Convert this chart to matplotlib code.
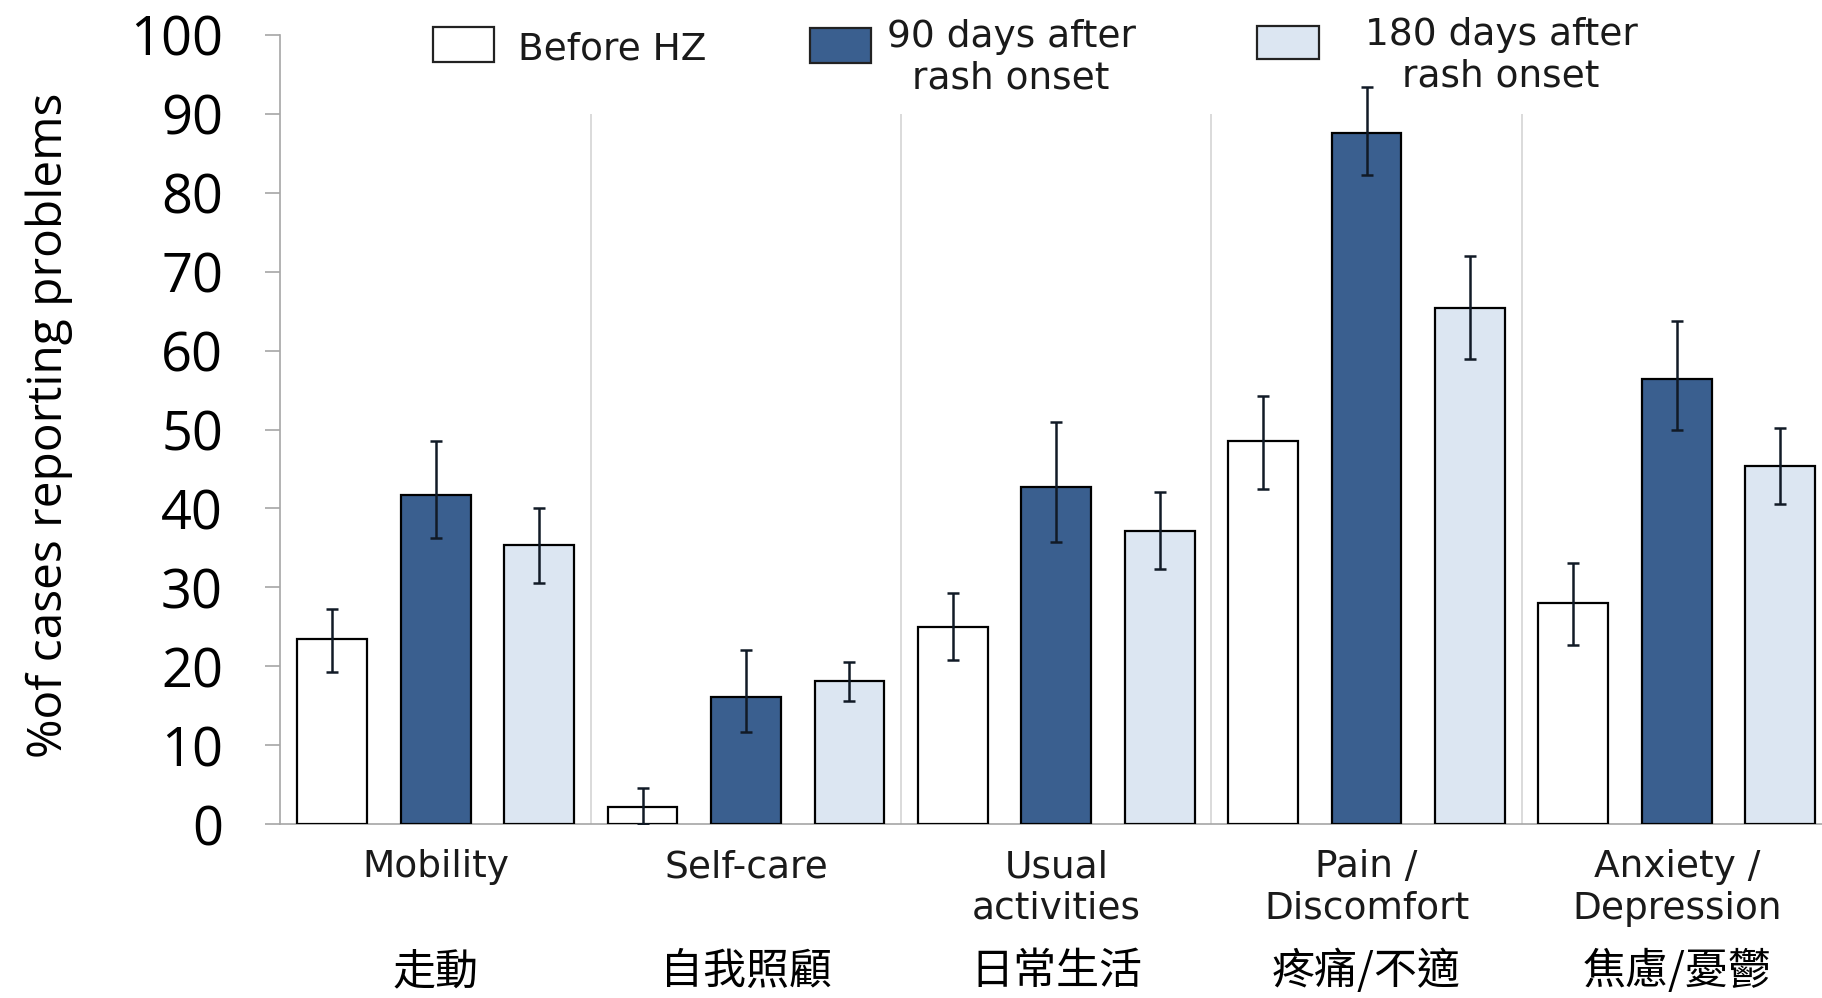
import matplotlib
matplotlib.use("Agg")
import matplotlib.pyplot as plt
import matplotlib.transforms as mtransforms
from matplotlib.patches import Rectangle
import numpy as np

# data
categories_en = ["Mobility", "Self-care", "Usual\nactivities", "Pain /\nDiscomfort", "Anxiety /\nDepression"]
categories_zh = ["走動", "自我照顧", "日常生活", "疼痛/不適", "焦慮/憂鬱"]
series_names = ["Before HZ", "90 days after\nrash onset", "180 days after\nrash onset"]

before_hz = [23.4, 2.2, 25.0, 48.5, 28.0]
before_lo = [19.3, 0.0, 20.8, 42.4, 22.7]
before_hi = [27.2, 4.6, 29.3, 54.2, 33.1]

d90 = [41.7, 16.1, 42.7, 87.6, 56.4]
d90_lo = [36.2, 11.6, 35.8, 82.2, 49.9]
d90_hi = [48.5, 22.1, 51.0, 93.4, 63.8]

d180 = [35.3, 18.1, 37.1, 65.4, 45.4]
d180_lo = [30.6, 15.6, 32.3, 58.9, 40.6]
d180_hi = [40.1, 20.5, 42.1, 72.0, 50.2]

yticks = [0, 10, 20, 30, 40, 50, 60, 70, 80, 90, 100]

colors = ["#ffffff", "#3a5f8f", "#dce6f2"]
err_color = "#111a26"

W, H = 1822, 998
fig = plt.figure(figsize=(W / 100, H / 100), dpi=100)
ax = fig.add_axes([280 / W, 1 - 824 / H, 1 - 280 / W, (824 - 35) / H])

x = np.arange(len(categories_en))
step = 1 / 3
width = 0.225
series = [(before_hz, before_lo, before_hi), (d90, d90_lo, d90_hi), (d180, d180_lo, d180_hi)]

for i, (vals, lo, hi) in enumerate(series):
    pos = x + (i - 1) * step
    vals = np.array(vals)
    yerr = [vals - np.array(lo), np.array(hi) - vals]
    ax.bar(pos, vals, width, color=colors[i], edgecolor="black", linewidth=1.6, zorder=3)
    ax.errorbar(pos, vals, yerr=yerr, fmt="none", ecolor=err_color, elinewidth=1.8,
                capsize=4.3, capthick=1.8, zorder=4)

# light separators between the groups
ax.vlines(x[:-1] + 0.5, 0, 90, color="#d4d4d4", linewidth=1.2, zorder=1)

ax.set_xlim(-0.502, 4.468)
ax.set_ylim(0, 100)
ax.set_yticks(yticks)
ax.tick_params(axis="y", length=11, width=1.2, color="#a6a6a6", pad=30,
               labelsize=39)
for t in ax.get_yticklabels():
    t.set_fontfamily("Open Sans")

ax.set_xticks(x, categories_en)
ax.tick_params(axis="x", length=0, pad=18, labelsize=27)
for t in ax.get_xticklabels():
    t.set_fontfamily("DejaVu Sans")
    t.set_linespacing(1.2)
    t.set_color("#1a1a1a")

for s in ["top", "right"]:
    ax.spines[s].set_visible(False)
for s in ["left", "bottom"]:
    ax.spines[s].set_color("#a6a6a6")
    ax.spines[s].set_linewidth(1.2)

fig.text(49 / W, 1 - 425 / H, "%of cases reporting problems", rotation=90,
         ha="center", va="center", fontsize=34.5, family="Open Sans")

# chinese labels under the english ones
trans = mtransforms.blended_transform_factory(ax.transData, fig.transFigure)
for xi, lab in zip(x, categories_zh):
    ax.text(xi, 1 - 972 / H, lab, transform=trans, ha="center", va="center",
            fontsize=31, family=["Noto Sans CJK TC", "DejaVu Sans"], clip_on=False)

# legend drawn by hand
boxes = [(433, 27, 61, 35), (810, 28, 61, 35), (1257, 26, 62, 33)]
text_pos = [(518, 49, "left"), (1011, 58, "center"), (1501, 56, "center")]
for (bx, by, bw, bh), (tx, ty, ha), name, c in zip(boxes, text_pos, series_names, colors):
    fig.add_artist(Rectangle((bx / W, 1 - (by + bh) / H), bw / W, bh / H,
                             transform=fig.transFigure, facecolor=c,
                             edgecolor="#222222", linewidth=1.6))
    fig.text(tx / W, 1 - ty / H, name, ha=ha, va="center", multialignment="center",
             fontsize=27, family="DejaVu Sans", linespacing=1.2, color="#1a1a1a")

fig.savefig("out.png", dpi=100)
